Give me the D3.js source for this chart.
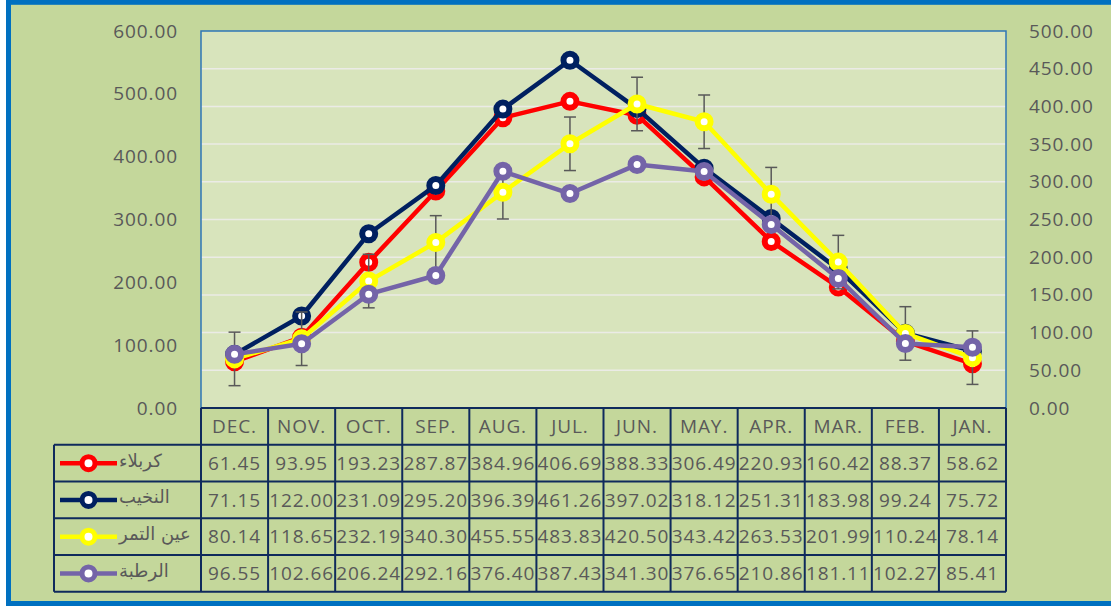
<!DOCTYPE html>
<html>
<head>
<meta charset="utf-8">
<script src="https://cdn.jsdelivr.net/npm/d3@7"></script>
<style>
  html, body { margin: 0; padding: 0; background: #ffffff; }
  svg { display: block; }
</style>
</head>
<body>
<div id="main-chart"></div>
<script>
// table columns, as in the sheet (right to left months)
const months = ["DEC.", "NOV.", "OCT.", "SEP.", "AUG.", "JUL.", "JUN.", "MAY.", "APR.", "MAR.", "FEB.", "JAN."];

const karbala = [61.45, 93.95, 193.23, 287.87, 384.96, 406.69, 388.33, 306.49, 220.93, 160.42, 88.37, 58.62];
const nukhaib = [71.15, 122.0, 231.09, 295.2, 396.39, 461.26, 397.02, 318.12, 251.31, 183.98, 99.24, 75.72];
const ainAlTamr = [80.14, 118.65, 232.19, 340.3, 455.55, 483.83, 420.5, 343.42, 263.53, 201.99, 110.24, 78.14];
const rutba = [96.55, 102.66, 206.24, 292.16, 376.4, 387.43, 341.3, 376.65, 210.86, 181.11, 102.27, 85.41];

const seriesNames = ["كربلاء", "النخيب", "عين التمر", "الرطبة"];
const leftTicks = [0, 100, 200, 300, 400, 500, 600];
const rightTicks = [0, 50, 100, 150, 200, 250, 300, 350, 400, 450, 500];

const width = 1111;
const height = 606;
const plot = { left: 201, right: 1006, top: 31, bottom: 408 };
const rowH = 36.75;
const legendLeft = 54;
const textColor = "#595959";
const tableColor = "#0f2a5c";
const numFont = "'Open Sans', 'Noto Sans', sans-serif";

const series = [
  { name: seriesNames[0], values: karbala, color: "#ff0000", axis: "right", reversed: false },
  { name: seriesNames[1], values: nukhaib, color: "#002060", axis: "right", reversed: false },
  { name: seriesNames[2], values: ainAlTamr, color: "#ffff00", axis: "left", reversed: true, errorBars: true },
  { name: seriesNames[3], values: rutba, color: "#7464a8", axis: "left", reversed: true },
];

const svg = d3
  .select("#main-chart")
  .append("svg")
  .attr("width", width)
  .attr("height", height);

// chart area background + blue frame
svg
  .append("rect")
  .attr("x", 8.5)
  .attr("y", 2.3)
  .attr("width", 1110)
  .attr("height", 601.2)
  .attr("fill", "#c4d79b")
  .attr("stroke", "#0070c0")
  .attr("stroke-width", 5);

const xScale = d3
  .scaleBand()
  .domain(months)
  .range([plot.left, plot.right]);

// secondary horizontal axis runs the other way
const xScaleRev = d3
  .scaleBand()
  .domain(months)
  .range([plot.right, plot.left]);

const yLeft = d3
  .scaleLinear()
  .domain([0, 600])
  .range([plot.bottom, plot.top]);

const yRight = d3
  .scaleLinear()
  .domain([0, 500])
  .range([plot.bottom, plot.top]);

svg
  .append("rect")
  .attr("x", plot.left)
  .attr("y", plot.top)
  .attr("width", plot.right - plot.left)
  .attr("height", plot.bottom - plot.top)
  .attr("fill", "#d8e4bc");

svg
  .append("g")
  .attr("class", "grid")
  .selectAll("line")
  .data(rightTicks.filter((d) => d > 0 && d < 500))
  .join("line")
  .attr("x1", plot.left)
  .attr("x2", plot.right)
  .attr("y1", (d) => yRight(d))
  .attr("y2", (d) => yRight(d))
  .attr("stroke", "#ebebe6")
  .attr("stroke-width", 1.5);

// plot border (top, left, right)
svg
  .append("path")
  .attr(
    "d",
    `M${plot.left},${plot.bottom} V${plot.top} H${plot.right} V${plot.bottom}`
  )
  .attr("fill", "none")
  .attr("stroke", "#2e75b6")
  .attr("stroke-width", 1.5);

const fmt = d3.format(".2f");

const leftAxis = svg
  .append("g")
  .attr("transform", `translate(${plot.left},0)`)
  .call(
    d3.axisLeft(yLeft).tickValues(leftTicks).tickFormat(fmt).tickSize(0).tickPadding(23)
  );

const rightAxis = svg
  .append("g")
  .attr("transform", `translate(${plot.right},0)`)
  .call(
    d3.axisRight(yRight).tickValues(rightTicks).tickFormat(fmt).tickSize(0).tickPadding(23)
  );

[leftAxis, rightAxis].forEach((axis) => {
  axis.select(".domain").remove();
  axis
    .selectAll("text")
    .attr("fill", textColor)
    .style("font-family", numFont)
    .style("font-size", "19px")
    .style("letter-spacing", "0.9px");
});

// lines, error bars, markers
const marks = svg.append("g").attr("class", "marks");

series.forEach((s) => {
  const x = s.reversed ? xScaleRev : xScale;
  const y = s.axis === "left" ? yLeft : yRight;
  const pts = s.values.map((v, i) => ({
    x: x(months[i]) + x.bandwidth() / 2,
    y: y(v),
    v,
  }));

  const g = marks.append("g");

  g.append("path")
    .datum(pts)
    .attr("d", d3.line().x((d) => d.x).y((d) => d.y))
    .attr("fill", "none")
    .attr("stroke", s.color)
    .attr("stroke-width", 4.5)
    .attr("stroke-linejoin", "round");

  if (s.errorBars) {
    // standard error, as the spreadsheet computes it
    const se = d3.deviation(s.values) / Math.sqrt(s.values.length);
    const bars = g
      .selectAll(".err")
      .data(pts)
      .join("g")
      .attr("class", "err")
      .attr("stroke", "#595959")
      .attr("stroke-width", 1.5);
    bars
      .append("line")
      .attr("x1", (d) => d.x)
      .attr("x2", (d) => d.x)
      .attr("y1", (d) => y(d.v + se))
      .attr("y2", (d) => y(d.v - se));
    bars
      .selectAll(".cap")
      .data((d) => [
        { x: d.x, y: y(d.v + se) },
        { x: d.x, y: y(d.v - se) },
      ])
      .join("line")
      .attr("class", "cap")
      .attr("x1", (d) => d.x - 6)
      .attr("x2", (d) => d.x + 6)
      .attr("y1", (d) => d.y)
      .attr("y2", (d) => d.y);
  }

  g.selectAll("circle")
    .data(pts)
    .join("circle")
    .attr("cx", (d) => d.x)
    .attr("cy", (d) => d.y)
    .attr("r", 6.5)
    .attr("fill", "#ffffff")
    .attr("stroke", s.color)
    .attr("stroke-width", 6);
});

// data table
const table = svg.append("g").attr("class", "table");
const rowsY = d3.range(series.length + 1).map((i) => plot.bottom + rowH * (i + 1));
const tableBottom = plot.bottom + rowH * (series.length + 1);

table
  .selectAll(".hline")
  .data([plot.bottom, ...rowsY])
  .join("line")
  .attr("class", "hline")
  .attr("x1", (d, i) => (i === 0 ? plot.left : legendLeft))
  .attr("x2", plot.right)
  .attr("y1", (d) => d)
  .attr("y2", (d) => d)
  .attr("stroke", tableColor)
  .attr("stroke-width", 2);

table
  .selectAll(".vline")
  .data([plot.left, ...months.map((m) => xScale(m) + xScale.bandwidth())])
  .join("line")
  .attr("class", "vline")
  .attr("x1", (d) => d)
  .attr("x2", (d) => d)
  .attr("y1", plot.bottom)
  .attr("y2", tableBottom)
  .attr("stroke", tableColor)
  .attr("stroke-width", 2);

table
  .append("line")
  .attr("x1", legendLeft)
  .attr("x2", legendLeft)
  .attr("y1", plot.bottom + rowH)
  .attr("y2", tableBottom)
  .attr("stroke", tableColor)
  .attr("stroke-width", 2);

table
  .selectAll(".month")
  .data(months)
  .join("text")
  .attr("class", "month")
  .attr("x", (d) => xScale(d) + xScale.bandwidth() / 2)
  .attr("y", plot.bottom + rowH / 2)
  .attr("dy", "0.36em")
  .attr("text-anchor", "middle")
  .attr("fill", textColor)
  .style("font-family", numFont)
  .style("font-size", "19px")
  .style("letter-spacing", "0.9px")
  .text((d) => d);

series.forEach((s, r) => {
  const cy = plot.bottom + rowH * (r + 1) + rowH / 2;
  const row = table.append("g");

  row
    .selectAll(".val")
    .data(s.values)
    .join("text")
    .attr("class", "val")
    .attr("x", (d, i) => xScale(months[i]) + xScale.bandwidth() / 2)
    .attr("y", cy)
    .attr("dy", "0.36em")
    .attr("text-anchor", "middle")
    .attr("fill", textColor)
    .style("font-family", numFont)
    .style("font-size", "19px")
    .style("letter-spacing", "0.9px")
    .text((d) => fmt(d));

  // legend key
  row
    .append("line")
    .attr("x1", 60)
    .attr("x2", 117)
    .attr("y1", cy)
    .attr("y2", cy)
    .attr("stroke", s.color)
    .attr("stroke-width", 4.5);
  row
    .append("circle")
    .attr("cx", 88.5)
    .attr("cy", cy)
    .attr("r", 6.5)
    .attr("fill", "#ffffff")
    .attr("stroke", s.color)
    .attr("stroke-width", 5);

  row
    .append("text")
    .attr("x", 119)
    .attr("y", cy)
    .attr("dy", "0.2em")
    .attr("fill", textColor)
    .style("font-family", "'DejaVu Sans', sans-serif")
    .style("font-size", "18px")
    .text(s.name);
});
</script>
</body>
</html>
